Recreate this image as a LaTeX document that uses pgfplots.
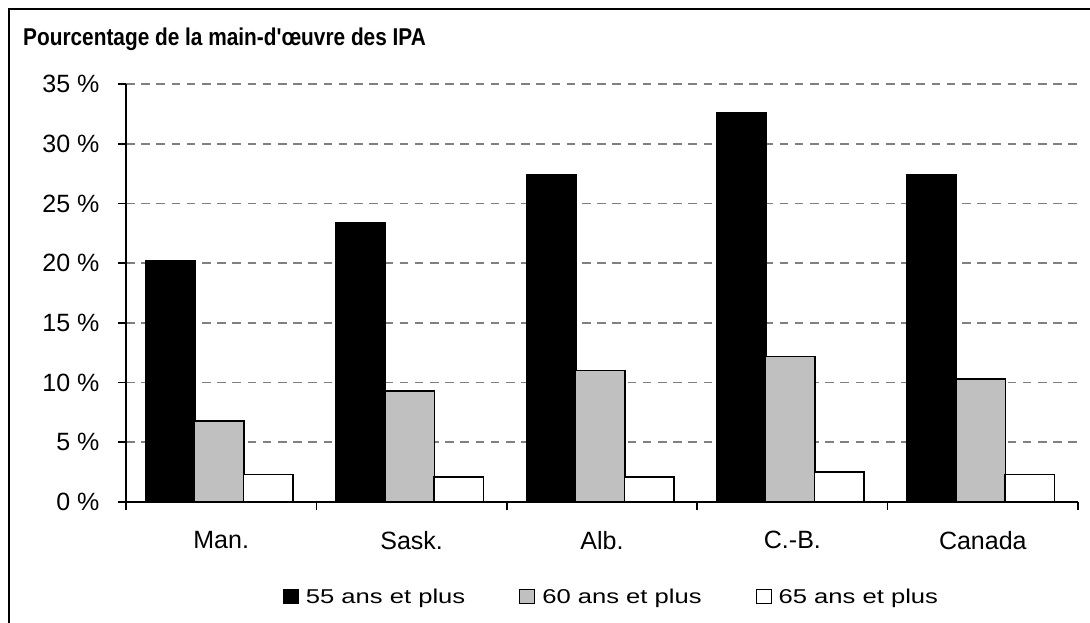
\documentclass[border=0pt]{standalone}
\usepackage{fontspec}
\setmainfont{Liberation Sans}[Ligatures=TeXOff]
\newfontfamily\legfont{Liberation Sans}[FakeStretch=1.28]
\usepackage{graphicx}
\usepackage{pgfplots}
\pgfplotsset{compat=1.18}
\definecolor{gridgray}{RGB}{128,128,128}
\definecolor{bargray}{RGB}{192,192,192}
\begin{document}
\begin{tikzpicture}[x=1pt,y=1pt]
\useasboundingbox (0,0) rectangle (1090,622);
\draw[line width=2pt] (9,-20) -- (9,613) -- (1110,613);
\node[anchor=base west, inner sep=0pt] at (23,576) {\scalebox{0.857}[1]{\bfseries\fontsize{24.3}{28}\selectfont Pourcentage de la main-d'œuvre des IPA}};
\begin{axis}[
  at={(221.2pt,120pt)}, anchor=origin,
  scale only axis, width=952pt, height=418pt,
  xmin=-0.5, xmax=4.5, ymin=0, ymax=35,
  ybar=0pt, bar width=49.5pt,
  axis x line*=bottom, axis y line*=left,
  axis line style={line width=1.6pt},
  xtick={0,...,4}, xticklabels={Man.,Sask.,Alb.,C.-B.,Canada},
  major x tick style={draw=none},
  minor xtick={-0.5,0.5,...,4.5},
  ytick={0,5,...,35},
  yticklabels={0 \%,5 \%,10 \%,15 \%,20 \%,25 \%,30 \%,35 \%},
  tick align=outside,
  major tick length=8pt, minor tick length=8pt,
  tick style={black,line width=1.6pt},
  ymajorgrids,
  grid style={gridgray, line width=1.6pt, dash pattern=on 8.5pt off 6.7pt},
  ticklabel style={font=\fontsize{25}{30}\selectfont},
  yticklabel style={xshift=-15pt},
  xticklabel style={yshift=-18pt},
  legend columns=3,
  legend style={at={(0.511,-0.227)}, anchor=center, draw=none, fill=none,
    font=\legfont\fontsize{20}{24}\selectfont,
    /tikz/every even column/.append style={column sep=50pt},
    nodes={inner sep=4pt}},
  legend image code/.code={\draw[#1,line width=1pt] (0pt,-7pt) rectangle (15pt,7pt);},
]
\addplot[fill=black, draw=black, line width=1.5pt, bar shift=-51pt] coordinates {(0,20.2) (1,23.4) (2,27.4) (3,32.6) (4,27.4)};
\addplot[fill=bargray, draw=black, line width=1.5pt, bar shift=-2pt] coordinates {(0,6.8) (1,9.3) (2,11.0) (3,12.2) (4,10.3)};
\addplot[fill=white, draw=black, line width=1.5pt, bar shift=47pt] coordinates {(0,2.3) (1,2.1) (2,2.1) (3,2.5) (4,2.3)};
\legend{\hspace{3pt}55 ans et plus,\hspace{3pt}60 ans et plus,\hspace{3pt}65 ans et plus}
\end{axis}
\end{tikzpicture}
\end{document}
